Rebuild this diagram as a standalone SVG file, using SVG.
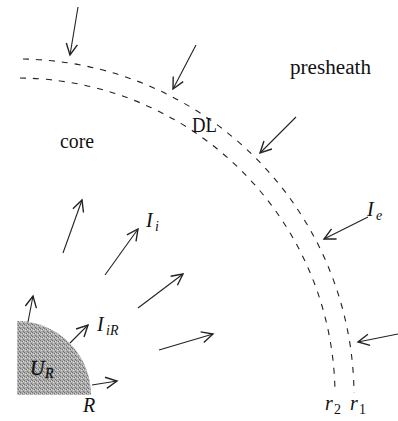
<svg xmlns="http://www.w3.org/2000/svg" width="398" height="421" viewBox="0 0 398 421">
<style>
.arc{fill:none;stroke:#222;stroke-width:1.1;stroke-dasharray:6 7}
.arr{fill:none;stroke:#222;stroke-width:1.1;marker-end:url(#ah)}
.t{font-family:"Liberation Serif","Times New Roman",serif;font-size:20px;fill:#111}
.i{font-family:"Liberation Serif","Times New Roman",serif;font-style:italic;font-size:20px;fill:#111}
.s{font-family:"Liberation Serif","Times New Roman",serif;font-style:italic;font-size:14px;fill:#111}
.n{font-family:"Liberation Serif","Times New Roman",serif;font-size:14px;fill:#111}
</style>
<defs>
<marker id="ah" markerUnits="userSpaceOnUse" markerWidth="20" markerHeight="20" refX="0" refY="0" viewBox="-12 -8 14 16" orient="auto" overflow="visible">
<path d="M -9 -4.5 L 0 0 L -9 4.5" fill="none" stroke="#222" stroke-width="1.1"/>
</marker>
<pattern id="stip" width="4" height="4" patternUnits="userSpaceOnUse" shape-rendering="crispEdges">
<rect width="4" height="4" fill="#adadad"/>
<rect x="0" y="0" width="1" height="1" fill="#707070"/>
<rect x="2" y="1" width="1" height="1" fill="#707070"/>
<rect x="1" y="2" width="1" height="1" fill="#dadada"/>
<rect x="3" y="3" width="1" height="1" fill="#707070"/>
<rect x="3" y="1" width="1" height="1" fill="#dadada"/>
</pattern>
</defs>
<g id="core-disk">
<path d="M 17 395 L 17 321 A 74 74 0 0 1 91 395 Z" fill="url(#stip)"/>
<text class="i" x="30" y="375" font-size="21px" stroke="#111" stroke-width="0.4">U</text><text class="s" x="45" y="378" stroke="#111" stroke-width="0.3">R</text>
</g>
<g id="boundaries">
<path class="arc" d="M 23 59 A 337 337 0 0 1 354 393"/>
<path class="arc" d="M 20 78 A 318 318 0 0 1 335 393"/>
</g>
<g id="labels">
<text class="t" x="290" y="74" textLength="81" lengthAdjust="spacingAndGlyphs">presheath</text>
<text class="t" x="60" y="148" textLength="34" lengthAdjust="spacingAndGlyphs">core</text>
<text class="t" x="192" y="132" textLength="25" lengthAdjust="spacingAndGlyphs">DL</text>
<text class="i" x="146" y="227">I</text><text class="s" x="155" y="231">i</text>
<text class="i" x="97" y="331">I</text><text class="s" x="106" y="335">iR</text>
<text class="i" x="367" y="216">I</text><text class="s" x="376" y="220">e</text>
<text class="i" x="83" y="412">R</text>
<text class="i" x="325" y="410">r</text><text class="n" x="334" y="414">2</text>
<text class="i" x="350" y="410">r</text><text class="n" x="359" y="414">1</text>
</g>
<g id="connectors">
<line class="arr" x1="28" y1="322" x2="33" y2="296"/>
<line class="arr" x1="70" y1="343" x2="88" y2="325"/>
<line class="arr" x1="92" y1="385" x2="117" y2="381"/>
<line class="arr" x1="63" y1="253" x2="82" y2="200"/>
<line class="arr" x1="105" y1="275" x2="138" y2="229"/>
<line class="arr" x1="138" y1="308" x2="183" y2="274"/>
<line class="arr" x1="159" y1="350" x2="213" y2="334"/>
<line class="arr" x1="78" y1="7" x2="70" y2="55"/>
<line class="arr" x1="196" y1="45" x2="173" y2="89"/>
<line class="arr" x1="296" y1="117" x2="260" y2="153"/>
<line class="arr" x1="368" y1="217" x2="324" y2="239"/>
<line class="arr" x1="398" y1="334" x2="358" y2="342"/>
</g>
</svg>
